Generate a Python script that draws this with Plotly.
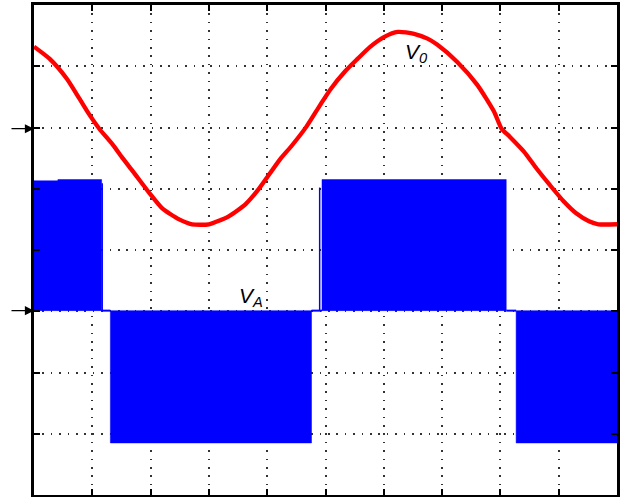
import plotly.graph_objects as go

# Time axis in scope divisions (0..10), voltage axis in divisions (0..8)
t_v0 = [0.00, 0.27, 0.56, 0.78, 0.95, 1.12, 1.35, 1.52, 1.70, 1.98, 2.20, 2.49, 2.71, 3.00,
        3.34, 3.63, 3.85, 4.22, 4.41, 4.67, 4.91, 5.09, 5.33, 5.55, 5.77, 6.01, 6.24, 6.52,
        6.75, 6.92, 7.26, 7.60, 7.89, 8.02, 8.16, 8.40, 8.62, 8.84, 9.08, 9.30, 9.52, 9.68, 10.0]
v0 = [7.32, 7.12, 6.80, 6.47, 6.21, 5.98, 5.72, 5.50, 5.28, 4.93, 4.68, 4.50, 4.42, 4.42,
      4.55, 4.75, 4.99, 5.48, 5.69, 6.01, 6.37, 6.63, 6.91, 7.12, 7.32, 7.48, 7.56, 7.53,
      7.45, 7.35, 7.07, 6.70, 6.26, 5.98, 5.85, 5.61, 5.33, 5.07, 4.80, 4.60, 4.47, 4.42, 4.42]

va_start = [0.00, 0.41, 1.31, 4.94, 8.27]
va_end = [0.41, 1.16, 4.76, 8.10, 10.0]
va_level = [5.13, 5.15, 0.85, 5.15, 0.85]
va_ground = 3.01
va_pulse_x = [1.17, 4.90]
va_pulse_top = [5.09, 5.02]

v0_ground = 5.98

fig = go.Figure()

# PWM blocks of V_A (filled)
px, py = [], []
for s, e, lv in zip(va_start, va_end, va_level):
    px += [s, s, e, e, s, None]
    py += [va_ground, lv, lv, va_ground, va_ground, None]
fig.add_trace(go.Scatter(x=px, y=py, mode="lines", fill="toself", fillcolor="#0000ff",
                         line=dict(color="#0000ff", width=0.5), hoverinfo="skip", showlegend=False))

# thin ground links between blocks
gx, gy = [], []
for e, s in zip(va_end[1:4], va_start[2:5]):
    gx += [e, s, None]
    gy += [va_ground, va_ground, None]
fig.add_trace(go.Scatter(x=gx, y=gy, mode="lines", line=dict(color="#0000ff", width=2),
                         hoverinfo="skip", showlegend=False))

# isolated narrow pulses
qx, qy = [], []
for x, top in zip(va_pulse_x, va_pulse_top):
    qx += [x, x, None]
    qy += [va_ground, top, None]
fig.add_trace(go.Scatter(x=qx, y=qy, mode="lines", line=dict(color="#0000ff", width=1.5),
                         hoverinfo="skip", showlegend=False))

# V0 output voltage
fig.add_trace(go.Scatter(x=t_v0, y=v0, mode="lines",
                         line=dict(color="#ff0000", width=4.3, shape="spline", smoothing=0.6),
                         hoverinfo="skip", showlegend=False))

axis_common = dict(showline=True, linewidth=3, linecolor="black", mirror="ticks",
                   ticks="inside", ticklen=6, tickwidth=1.5, tickcolor="black",
                   showticklabels=False, showgrid=True, gridcolor="#333333",
                   gridwidth=1.5, griddash="1.5px,6.9px", zeroline=False, dtick=1)

fig.update_xaxes(range=[0, 10], **axis_common)
fig.update_yaxes(range=[0, 8], **axis_common)

# ground markers (arrows in the left margin)
for yg in [v0_ground, va_ground]:
    fig.add_annotation(x=0, y=yg, xref="x", yref="y", ax=-24, ay=0, text="",
                       showarrow=True, arrowhead=2, arrowsize=1.4, arrowwidth=1.3,
                       arrowcolor="black")

fig.add_annotation(x=6.56, y=7.21, xref="x", yref="y", text="<i>V<sub>0</sub></i>",
                   showarrow=False, font=dict(family="Liberation Sans, Arial", size=21, color="black"))
fig.add_annotation(x=3.72, y=3.23, xref="x", yref="y", text="<i>V<sub>A</sub></i>",
                   showarrow=False, font=dict(family="Liberation Sans, Arial", size=21, color="black"))

fig.update_layout(width=622, height=497, margin=dict(l=34, r=2, t=3, b=2),
                  plot_bgcolor="white", paper_bgcolor="white")

fig.write_html("out.html", config={"displayModeBar": False},
               post_script="document.body.style.margin='0';document.body.style.overflow='hidden';")
